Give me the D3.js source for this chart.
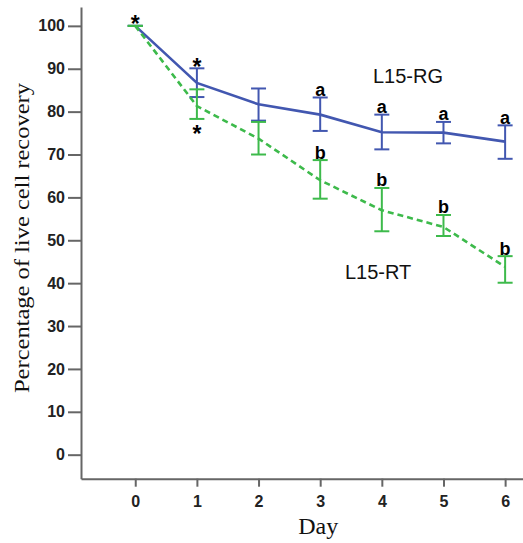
<!DOCTYPE html>
<html>
<head>
<meta charset="utf-8">
<script src="https://cdn.jsdelivr.net/npm/d3@7"></script>
<style>
  html, body { margin: 0; padding: 0; background: #fff; }
  svg { display: block; }
</style>
</head>
<body>
<svg id="chart" width="523" height="543"></svg>
<script>
// Days of culture
const days = [0, 1, 2, 3, 4, 5, 6];

// L15-RG (solid blue): mean and error bar limits
const rgMean  = [100, 86.7, 81.7, 79.3, 75.2, 75.1, 73.0];
const rgUpper = [100, 90.1, 85.4, 83.3, 79.3, 77.6, 76.8];
const rgLower = [100, 83.4, 77.9, 75.5, 71.2, 72.6, 69.0];

// L15-RT (dashed green): mean and error bar limits
const rtMean  = [100, 81.3, 73.7, 64.0, 57.0, 53.1, 43.8];
const rtUpper = [100, 85.2, 77.6, 68.7, 62.2, 55.9, 46.3];
const rtLower = [100, 78.3, 70.0, 59.7, 52.1, 51.0, 40.1];

// Significance markers
const rgMarks = ["*", "*", "", "a", "a", "a", "a"];
const rtMarks = ["", "*", "", "b", "b", "b", "b"];

const yTicks = [0, 10, 20, 30, 40, 50, 60, 70, 80, 90, 100];

const svg = d3.select("#chart");
const BLUE = "#4257b0", GREEN = "#3dba4b", AXIS = "#666";

const x = d3.scaleLinear().domain([-0.88, 6.29]).range([81, 523]);
const y = d3.scaleLinear().domain([-5.6, 104.4]).range([478.7, 7]);

// Axes
const yAxis = svg.append("g")
  .attr("transform", `translate(${x.range()[0]},0)`)
  .call(d3.axisLeft(y).tickValues(yTicks).tickSize(13).tickPadding(3).tickSizeOuter(0));
const xAxis = svg.append("g")
  .attr("transform", `translate(0,${y.range()[0]})`)
  .call(d3.axisBottom(x).tickValues(days).tickSize(8).tickPadding(8.5).tickSizeOuter(0));

[yAxis, xAxis].forEach(g => {
  g.select(".domain").attr("stroke", AXIS).attr("stroke-width", 2);
  g.selectAll(".tick line").attr("stroke", AXIS).attr("stroke-width", 2);
  g.selectAll(".tick text")
    .attr("fill", "#222")
    .style("font-family", "Liberation Sans, Arial, sans-serif")
    .style("font-weight", "bold")
    .style("font-size", "16px");
});

// Axis titles
svg.append("text")
  .attr("transform", `translate(29,238) rotate(-90)`)
  .attr("text-anchor", "middle")
  .attr("textLength", 310)
  .attr("lengthAdjust", "spacingAndGlyphs")
  .style("font-family", "Liberation Serif, Times New Roman, serif")
  .style("font-size", "22px")
  .attr("fill", "#111")
  .text("Percentage of live cell recovery");

svg.append("text")
  .attr("x", x(3) - 2)
  .attr("y", 534)
  .attr("text-anchor", "middle")
  .attr("textLength", 40)
  .attr("lengthAdjust", "spacingAndGlyphs")
  .style("font-family", "Liberation Serif, Times New Roman, serif")
  .style("font-size", "24px")
  .attr("fill", "#111")
  .text("Day");

function drawSeries(mean, upper, lower, color, dash) {
  const g = svg.append("g");
  const line = d3.line().x((d, i) => x(days[i])).y(d => y(d));
  g.append("path")
    .datum(mean)
    .attr("d", line)
    .attr("fill", "none")
    .attr("stroke", color)
    .attr("stroke-width", 2.6)
    .attr("stroke-dasharray", dash);
  const cap = 7.5;
  days.forEach((d, i) => {
    const cx = x(d);
    g.append("line").attr("x1", cx).attr("x2", cx)
      .attr("y1", y(upper[i])).attr("y2", y(lower[i]))
      .attr("stroke", color).attr("stroke-width", 2);
    [upper[i], lower[i]].forEach(v => {
      g.append("line").attr("x1", cx - cap).attr("x2", cx + cap)
        .attr("y1", y(v)).attr("y2", y(v))
        .attr("stroke", color).attr("stroke-width", 2);
    });
  });
}

drawSeries(rgMean, rgUpper, rgLower, BLUE, null);
drawSeries(rtMean, rtUpper, rtLower, GREEN, "6,4");

// Significance letters and asterisks
const markFont = "Liberation Sans, Arial, sans-serif";
function mark(cx, baseline, txt) {
  const isStar = txt === "*";
  svg.append("text")
    .attr("x", cx)
    .attr("y", baseline)
    .attr("text-anchor", "middle")
    .style("font-family", markFont)
    .style("font-weight", "bold")
    .style("font-size", isStar ? "23px" : "18px")
    .attr("fill", "#000")
    .text(txt);
}
days.forEach((d, i) => {
  if (rgMarks[i]) {
    const top = y(rgUpper[i]);
    mark(x(d), rgMarks[i] === "*" ? top + 6.5 : top - 1.5, rgMarks[i]);
  }
  if (rtMarks[i]) {
    if (rtMarks[i] === "*") mark(x(d), y(rtLower[i]) + 23, rtMarks[i]);
    else mark(x(d), y(rtUpper[i]) - 1.5, rtMarks[i]);
  }
});

// Series labels
svg.append("text")
  .attr("x", 373).attr("y", 83)
  .style("font-family", "Liberation Sans, Arial, sans-serif")
  .style("font-size", "20px")
  .attr("fill", "#111")
  .text("L15-RG");
svg.append("text")
  .attr("x", 345).attr("y", 279)
  .style("font-family", "Liberation Sans, Arial, sans-serif")
  .style("font-size", "20px")
  .attr("fill", "#111")
  .text("L15-RT");
</script>
</body>
</html>
